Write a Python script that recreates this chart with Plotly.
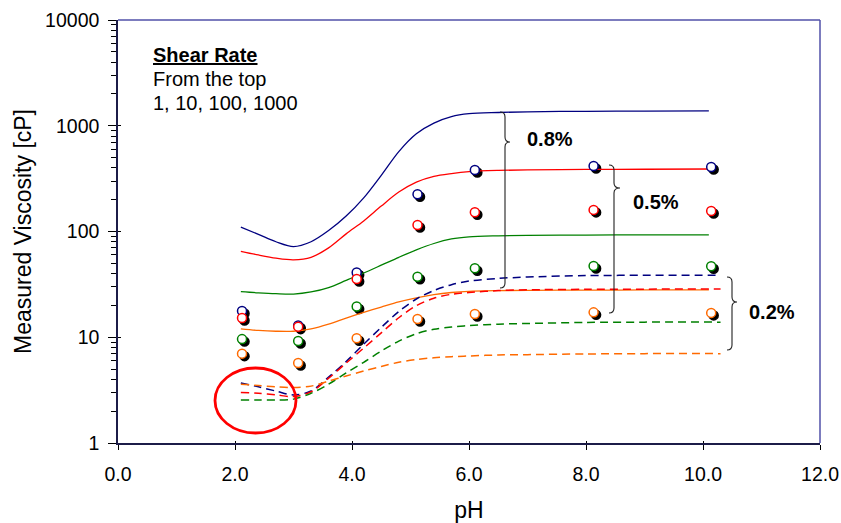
import plotly.graph_objects as go

# ---------------- data ----------------
# 0.8% polymer: model curves (solid), shear rate 1, 10, 100, 1000 1/s (top to bottom)
ph_solid = [2.1, 2.4, 2.7, 3.0, 3.3, 3.6, 3.9, 4.2, 4.5, 4.8, 5.1, 5.4, 5.7, 6.0, 6.5, 7.0, 8.0, 9.0, 10.1]
blue_08 = [110, 94, 80, 72, 80, 102, 140, 208, 340, 570, 840, 1060, 1220, 1300, 1335, 1355, 1370, 1375, 1380]
red_08 = [65, 60, 56, 54, 57, 70, 95, 126, 174, 236, 293, 332, 353, 368, 378, 383, 386, 388, 390]
green_08 = [27, 26.3, 25.8, 25.6, 26.8, 29.5, 34.5, 40.5, 48, 57, 67, 77, 85, 89, 91, 92, 92.5, 93, 93]
orange_08 = [12, 11.6, 11.4, 11.4, 12, 13.3, 15.2, 17.2, 19.3, 21.6, 23.6, 25.3, 26.5, 27.2, 27.6, 27.8, 27.9, 28, 28]

# 0.2% polymer: model curves (dashed)
ph_dash = [2.1, 2.4, 2.7, 3.0, 3.3, 3.6, 3.9, 4.2, 4.5, 4.8, 5.1, 5.4, 5.7, 6.0, 6.5, 7.0, 8.0, 9.0, 10.3]
blue_02 = [3.7, 3.4, 3.1, 2.85, 3.1, 4.2, 5.9, 8.6, 12.4, 17.5, 23, 27.7, 31.4, 34, 36, 37.1, 38.3, 38.5, 38.5]
red_02 = [3.0, 2.95, 2.85, 2.75, 3.05, 4.1, 5.7, 7.9, 11.0, 15.3, 19.9, 23.4, 25.5, 26.5, 27.6, 28.1, 28.4, 28.5, 28.6]
green_02 = [2.55, 2.55, 2.55, 2.6, 2.95, 3.6, 4.6, 5.8, 7.4, 9.2, 10.8, 11.9, 12.5, 12.9, 13.3, 13.5, 13.8, 13.9, 13.9]
orange_02 = [3.6, 3.5, 3.4, 3.35, 3.45, 3.85, 4.3, 4.8, 5.3, 5.8, 6.15, 6.4, 6.55, 6.65, 6.8, 6.85, 6.95, 7.0, 7.0]

# 0.5% polymer: measured points (circles)
ph_pts = [2.12, 3.08, 4.08, 5.12, 6.10, 8.13, 10.14]
blue_05 = [17.7, 12.9, 41, 225, 382, 416, 407]
red_05 = [15.2, 12.6, 35.6, 115, 152, 160, 156]
green_05 = [9.6, 9.2, 19.5, 37.4, 45, 47.2, 47]
orange_05 = [7.0, 5.7, 9.8, 14.9, 16.6, 17.2, 17]

x_tickvals = [0, 2, 4, 6, 8, 10, 12]
x_ticktext = ["0.0", "2.0", "4.0", "6.0", "8.0", "10.0", "12.0"]
y_tickvals = [1, 10, 100, 1000, 10000]
y_ticktext = ["1", "10", "100", "1000", "10000"]
y_minor = [m * d for d in [1, 10, 100, 1000] for m in range(2, 10)]

X_RANGE = [0, 12]
Y_RANGE_LOG = [0, 4]

# ---------------- style ----------------
NAVY, RED, GREEN, ORANGE = "#000080", "#ff0000", "#008000", "#ff6a00"
FONT = "Liberation Sans, Arial, sans-serif"

W, H = 841, 523
ML, MR, MT, MB = 118, 18, 17, 77
PW, PH = W - ML - MR, H - MT - MB
AX_L, AX_R, AX_T, AX_B = 118, 820, 20, 443
SH = 2.5  # marker shadow offset in px

x_dom = [0, (AX_R - ML) / PW]
y_dom = [(MT + PH - AX_B) / PH, (MT + PH - AX_T) / PH]
# shifted ranges for the shadow layer (SH px right and SH px down)
sx = SH * (X_RANGE[1] - X_RANGE[0]) / (AX_R - AX_L)
sy = SH * (Y_RANGE_LOG[1] - Y_RANGE_LOG[0]) / (AX_B - AX_T)
x_range_sh = [X_RANGE[0] - sx, X_RANGE[1] - sx]
y_range_sh = [Y_RANGE_LOG[0] + sy, Y_RANGE_LOG[1] + sy]


def dx(px):
    return (px - AX_L) / (AX_R - AX_L)


def dy(py):
    return (AX_B - py) / (AX_B - AX_T)


fig = go.Figure()

# shadows of the circles: main (hidden) axes with slightly shifted ranges -> drawn below overlays
for vals in [blue_05, red_05, green_05, orange_05]:
    fig.add_trace(go.Scatter(x=ph_pts, y=vals, mode="markers", xaxis="x", yaxis="y",
                             marker=dict(size=9, color="black", line=dict(color="black", width=1.5)),
                             hoverinfo="skip", showlegend=False))

# solid curves
for vals, col in [(blue_08, NAVY), (red_08, RED), (green_08, GREEN), (orange_08, ORANGE)]:
    fig.add_trace(go.Scatter(x=ph_solid, y=vals, mode="lines", xaxis="x2", yaxis="y2",
                             line=dict(color=col, width=1.3, shape="spline", smoothing=0.9),
                             showlegend=False))
# dashed curves
for vals, col in [(blue_02, NAVY), (red_02, RED), (green_02, GREEN), (orange_02, ORANGE)]:
    fig.add_trace(go.Scatter(x=ph_dash, y=vals, mode="lines", xaxis="x2", yaxis="y2",
                             line=dict(color=col, width=1.5, dash="8px,5px", shape="spline", smoothing=0.9),
                             showlegend=False))
# circles
for vals, col in [(blue_05, NAVY), (red_05, RED), (green_05, GREEN), (orange_05, ORANGE)]:
    fig.add_trace(go.Scatter(x=ph_pts, y=vals, mode="markers", xaxis="x2", yaxis="y2",
                             marker=dict(size=9, color="white", line=dict(color=col, width=1.5)),
                             showlegend=False))

# empty trace for the overlay axes carrying the inner half of the crossing ticks
fig.add_trace(go.Scatter(x=[None], y=[None], xaxis="x3", yaxis="y3", showlegend=False))

AXLINE = "#1c1c48"
tickfont = dict(family=FONT, size=19.5, color="black")
hidden = dict(showline=False, showticklabels=False, ticks="", showgrid=False,
              zeroline=False, automargin=False)

fig.update_layout(
    template="none",
    width=W, height=H,
    margin=dict(l=ML, r=MR, t=MT, b=MB, pad=0, autoexpand=False),
    paper_bgcolor="white", plot_bgcolor="rgba(0,0,0,0)",
    font=dict(family=FONT, color="black"),
    showlegend=False,
    xaxis=dict(domain=x_dom, range=x_range_sh, anchor="y", **hidden),
    yaxis=dict(domain=y_dom, type="log", range=y_range_sh, anchor="x", **hidden),
    xaxis2=dict(overlaying="x", range=X_RANGE, anchor="y2", side="bottom",
                tickmode="array", tickvals=x_tickvals, ticktext=x_ticktext,
                ticks="outside", ticklen=5, tickwidth=1.2, tickcolor="black",
                showline=True, linecolor=AXLINE, linewidth=1.5,
                showgrid=False, zeroline=False, tickfont=tickfont, automargin=False,
                ticklabelstandoff=8,
                title=dict(text="pH", font=dict(family=FONT, size=23), standoff=20)),
    yaxis2=dict(overlaying="y", type="log", range=Y_RANGE_LOG, anchor="x2", side="left",
                tickmode="array", tickvals=y_tickvals, ticktext=y_ticktext,
                ticks="outside", ticklen=8, tickwidth=1.2, tickcolor="black",
                minor=dict(tickmode="array", tickvals=y_minor, ticks="outside",
                           ticklen=5, tickwidth=1, tickcolor="black", showgrid=False),
                showline=True, linecolor=AXLINE, linewidth=1.5,
                showgrid=False, zeroline=False, tickfont=tickfont, automargin=False,
                ticklabelstandoff=5,
                title=dict(text="Measured Viscosity [cP]", font=dict(family=FONT, size=23), standoff=7)),
    xaxis3=dict(overlaying="x", range=X_RANGE, anchor="y3", side="bottom",
                tickmode="array", tickvals=x_tickvals, ticks="inside", ticklen=2.5,
                tickwidth=1.2, tickcolor="black", showticklabels=False,
                showline=False, showgrid=False, zeroline=False, automargin=False),
    yaxis3=dict(overlaying="y", type="log", range=Y_RANGE_LOG, anchor="x3", side="left",
                tickmode="array", tickvals=y_tickvals, ticks="inside", ticklen=2.5,
                tickwidth=1.2, tickcolor="black", showticklabels=False,
                showline=False, showgrid=False, zeroline=False, automargin=False),
)

shapes = []
FRAME = "#5050a8"
shapes.append(dict(type="line", xref="x domain", yref="y domain", x0=0, x1=1, y0=1, y1=1,
                   line=dict(color=FRAME, width=1.5), layer="below"))
shapes.append(dict(type="line", xref="x domain", yref="y domain", x0=1, x1=1, y0=0, y1=1,
                   line=dict(color=FRAME, width=1.5), layer="below"))

# red ellipse highlighting the low-pH region of the 0.2% curves
shapes.append(dict(type="circle", xref="x domain", yref="y domain",
                   x0=dx(215), x1=dx(296), y0=dy(433), y1=dy(368),
                   line=dict(color=RED, width=2.8), layer="above"))


def brace(xl, xm, xt, yt, ytip, yb, r=5):
    p = (f"M {dx(xl)},{dy(yt)} Q {dx(xm)},{dy(yt)} {dx(xm)},{dy(yt + r)} "
         f"L {dx(xm)},{dy(ytip - r)} Q {dx(xm)},{dy(ytip)} {dx(xt)},{dy(ytip)} "
         f"Q {dx(xm)},{dy(ytip)} {dx(xm)},{dy(ytip + r)} "
         f"L {dx(xm)},{dy(yb - r)} Q {dx(xm)},{dy(yb)} {dx(xl)},{dy(yb)}")
    return dict(type="path", xref="x domain", yref="y domain", path=p,
                line=dict(color="#222222", width=1.1), layer="above")


shapes.append(brace(500, 505, 510, 112, 142, 288))
shapes.append(brace(609, 614, 620, 165, 188, 313))
shapes.append(brace(727, 732, 737, 277, 302, 350))
fig.update_layout(shapes=shapes)

ann = []


def text(px, py, s, size=20, xanchor="center"):
    ann.append(dict(xref="x domain", yref="y domain", x=dx(px), y=dy(py), text=s,
                    showarrow=False, xanchor=xanchor, yanchor="middle",
                    font=dict(family=FONT, size=size, color="black")))


text(151, 55, "<b><u>Shear Rate</u></b>", xanchor="left")
text(151, 79, "From the top", xanchor="left")
text(151, 103, "1, 10, 100, 1000", xanchor="left")
text(550, 139, "<b>0.8%</b>")
text(656, 202, "<b>0.5%</b>")
text(772, 312, "<b>0.2%</b>")
fig.update_layout(annotations=ann)

fig.write_html("out.html")
